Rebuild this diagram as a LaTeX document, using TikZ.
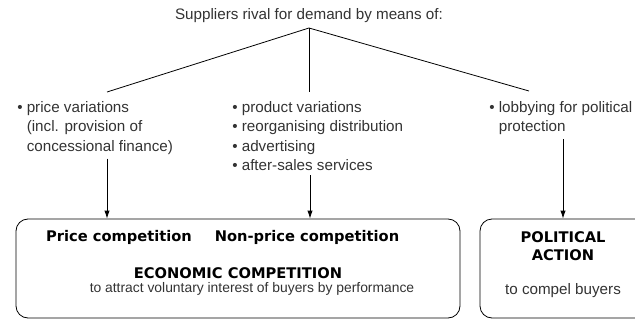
\documentclass[tikz,border=0pt]{standalone}
\usepackage{fontspec}
\setmainfont{Liberation Sans}
\newfontfamily\heavyfont{DejaVu Sans}
\usetikzlibrary{positioning}
\usetikzlibrary{fit}
\usetikzlibrary{arrows.meta}
\tikzset{
	plain/.style={font=\fontsize{11.4}{14.6}\selectfont, inner sep=0pt, text=black!80},
	item/.style={plain, align=left, anchor=north west},
	heading/.style={font=\heavyfont\bfseries\fontsize{11}{14}\selectfont, inner sep=0pt, align=center},
	% rounded boxes at the bottom
	panel/.style={draw, rounded corners=9pt, inner sep=0pt, line width=0.6pt},
}

\begin{document}
\begin{tikzpicture}[x=0.75pt, y=-0.75pt]
	\useasboundingbox (0,0) rectangle (635,321);
	\clip (0,0) rectangle (635,321);
	
	\node (title) [plain] at (309,16) {Suppliers rival for demand by means of:};
	\coordinate (apex) at (309,28);
	\coordinate (leftend) at (107,92);
	\coordinate (midend) at (309,92);
	\coordinate (rightend) at (529,91);
	
	\node (price) [item] at (17,101) {\textbullet\ price variations\\\hphantom{\textbullet\ }(incl. provision of\\\hphantom{\textbullet\ }concessional finance)};
	\node (product) [item] at (232,101) {\textbullet\ product variations\\\textbullet\ reorganising distribution\\\textbullet\ advertising\\\textbullet\ after-sales services};
	\node (lobby) [item] at (489,101) {\textbullet\ lobbying for political\\\hphantom{\textbullet\ }protection};
	
	\node (eco) [panel, fit={(16,219) (460,318)}] {};
	\node (pol) [panel, fit={(480,219) (660,318)}] {};
	
	\node (pc) [heading] at (119,237) {Price competition};
	\node (npc) [heading] at (307,237) {Non-price competition};
	\node (econ) [heading] at (238,273) {ECONOMIC COMPETITION};
	\node (attract) [plain, font=\fontsize{10.4}{14}\selectfont] at (252,289) {to attract voluntary interest of buyers by performance};
	\node (polact) [heading] at (563,246) {POLITICAL\\ACTION};
	\node (compel) [plain] at (563,291) {to compel buyers};
	
	\coordinate (pa) at (107,0);
	\coordinate (pb) at (310,0);
	\begin{scope}[line width=0.6pt]
		\draw (apex) -- (leftend);
		\draw (apex) -- (midend);
		\draw (apex) -- (rightend);
	\end{scope}
	\begin{scope}[line width=0.6pt, ->, >={Latex[length=6pt, width=4pt]}, shorten <=3pt]
		\draw (price.south -| pa) -- (eco.north -| pa);
		\draw (product.south -| pb) -- (eco.north -| pb);
		\draw (lobby.south -| polact) -- (pol.north -| polact);
	\end{scope}
\end{tikzpicture}
\end{document}
